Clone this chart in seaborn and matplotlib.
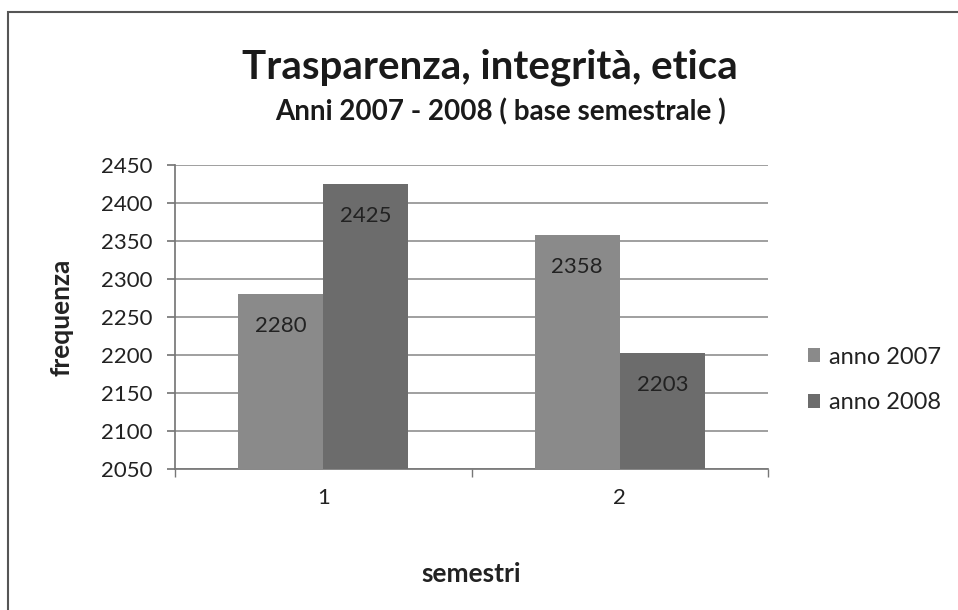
import pandas as pd
import seaborn as sns
import matplotlib.pyplot as plt
from matplotlib.patches import Rectangle

# %%

semestri = ['1', '2']
anno_2007 = [2280, 2358]
anno_2008 = [2425, 2203]

df = pd.DataFrame({
    'semestre': semestri * 2,
    'frequenza': anno_2007 + anno_2008,
    'anno': ['anno 2007'] * 2 + ['anno 2008'] * 2,
})

# %%

sns.set_theme(style='white')
plt.rcParams['font.family'] = ['Lato', 'DejaVu Sans']

W, H = 958, 610
fig = plt.figure(figsize=(W / 100, H / 100), dpi=100)
ax = fig.add_axes([175 / W, 1 - 469 / H, (768 - 175) / W, (469 - 165) / H])

sns.barplot(data=df, x='semestre', y='frequenza', hue='anno',
            palette=['#8a8a8a', '#6c6c6c'], width=0.575, saturation=1,
            linewidth=0, ax=ax, zorder=3)

ax.set_ylim(2050, 2450)
ax.set_yticks(range(2050, 2451, 50))
ax.yaxis.grid(True, color='#8f8f8f', linewidth=1.2, zorder=0)
ax.set_axisbelow(True)
for s in ['top', 'right']:
    ax.spines[s].set_visible(False)
ax.spines['left'].set_color('#777777')
ax.spines['bottom'].set_color('#777777')
ax.tick_params(axis='y', length=6, color='#777777', direction='out', left=True,
               labelsize=16, pad=10, labelcolor='#222222')
ax.tick_params(axis='x', length=0, labelsize=16, pad=14, labelcolor='#222222')
# tacche ai confini delle categorie
ax.set_xticks([-0.5, 0.5, 1.5], minor=True)
ax.tick_params(axis='x', which='minor', length=6, color='#777777', bottom=True)
ax.set_xlim(-0.5, 1.5)

for cont in ax.containers:
    for bar in cont:
        h = bar.get_height()
        ax.annotate(f'{int(h)}', (bar.get_x() + bar.get_width() / 2, h),
                    xytext=(0, -23), textcoords='offset points',
                    ha='center', va='center', fontsize=16, color='#222222', zorder=4)

ax.set_xlabel('semestri', fontsize=19, fontweight='bold', color='#222222')
ax.set_ylabel('frequenza', fontsize=19, fontweight='bold', color='#222222')
ax.xaxis.set_label_coords(0.5, (469 - 562) / 304)
ax.yaxis.set_label_coords((74 - 175) / 593, 0.5)

ax.legend(loc='center left', bbox_to_anchor=(808 / W, 1 - 380 / H),
          bbox_transform=fig.transFigure, frameon=False, borderpad=0, borderaxespad=0,
          fontsize=17, handlelength=0.5, handleheight=0.5, handletextpad=0.4,
          labelspacing=1.05, labelcolor='#222222')

fig.text(490 / W, 1 - 78 / H, 'Trasparenza, integrità, etica', ha='center', va='baseline',
         fontsize=29, fontweight='bold', color='#1a1a1a')
fig.text(501 / W, 1 - 120 / H, 'Anni 2007 - 2008 ( base semestrale )', ha='center',
         va='baseline', fontsize=20, fontweight='bold', color='#1a1a1a')

fig.add_artist(Rectangle((8 / W, -0.05), 1.2, 1 - 12 / H + 0.05, transform=fig.transFigure,
                         fill=False, edgecolor='#555555', linewidth=1.5))

fig.savefig('out.png', dpi=100)
